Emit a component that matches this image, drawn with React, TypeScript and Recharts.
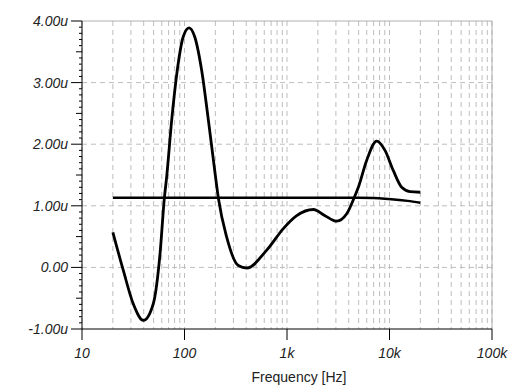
import React from "react";
import { LineChart, Line, XAxis, YAxis, CartesianGrid, ReferenceLine, Label } from "recharts";

// Frequency response (u)
const respFreq = [20, 25.3, 31.6, 39.7, 49.6, 57.7, 63.6, 67, 75, 85, 97, 110.7, 126, 147, 171, 199, 214, 258, 335, 405, 634, 921, 1245, 1808, 2350, 3053, 3822, 4505, 4966, 5996, 7503, 9036, 10900, 13150, 15850, 20000];
const respVal = [0.57, -0.05, -0.59, -0.86, -0.59, 0.22, 1.125, 1.47, 2.39, 3.2, 3.74, 3.89, 3.74, 3.2, 2.39, 1.52, 1.125, 0.49, 0.03, -0.01, 0.28, 0.63, 0.84, 0.94, 0.84, 0.75, 0.87, 1.125, 1.3, 1.74, 2.05, 1.9, 1.57, 1.3, 1.23, 1.22];

// Flat reference trace
const flatFreq = [20, 5000, 7000, 9000, 11750, 15000, 20000];
const flatVal = [1.13, 1.13, 1.125, 1.115, 1.1, 1.08, 1.05];

// Axes
const decades = [10, 100, 1000, 10000, 100000];
const decadeLabels = ["10", "100", "1k", "10k", "100k"];
const multipliers = [1, 2, 3, 4, 5, 6, 7, 8, 9];
const xTicks = [...decades.slice(0, 4).flatMap((d) => multipliers.map((m) => d * m)), 100000];
const yMajor = [-1, 0, 1, 2, 3, 4];
const yTicks = Array.from({ length: 51 }, (_, i) => Math.round((-1 + i * 0.1) * 10) / 10);

const respData = respFreq.map((f, i) => ({ f, v: respVal[i] }));
const flatData = flatFreq.map((f, i) => ({ f, v: flatVal[i] }));

const font = "'Liberation Sans', Arial, sans-serif";
const tickText = { fontFamily: font, fontStyle: "italic", fontSize: 14, fill: "#222" } as const;

function XTick(props: any) {
  const { x, y, payload } = props;
  const idx = decades.indexOf(payload.value);
  if (idx < 0) return null;
  return (
    <g>
      <line x1={x} y1={y} x2={x} y2={y + 11} stroke="#000" />
      <text x={x} y={y + 29} textAnchor="middle" style={tickText}>
        {decadeLabels[idx]}
      </text>
    </g>
  );
}

function YTick(props: any) {
  const { x, y, payload } = props;
  const v = payload.value;
  const k = Math.round(v * 10);
  const major = k % 10 === 0;
  const len = major ? 11 : k % 5 === 0 ? 6 : 3;
  return (
    <g>
      <line x1={x - len} y1={y} x2={x} y2={y} stroke="#000" />
      {major && (
        <text x={x - 14} y={y + 5} textAnchor="end" style={tickText}>
          {v === 0 ? "0.00" : `${v.toFixed(2)}u`}
        </text>
      )}
    </g>
  );
}

export default function App() {
  return (
    <div style={{ position: "absolute", left: 0, top: 0, background: "#fff" }}>
      <LineChart width={520} height={390} margin={{ top: 21, right: 28, bottom: 0, left: 0 }}>
        <CartesianGrid horizontal={false} stroke="#bdbdbd" strokeDasharray="5 4" />
        {yMajor.slice(1, 5).map((v) => (
          <ReferenceLine key={v} y={v} stroke="#bdbdbd" strokeDasharray="5 4" />
        ))}
        <ReferenceLine y={4} stroke="#b0b0b0" />
        <ReferenceLine x={100000} stroke="#b0b0b0" />
        <XAxis
          dataKey="f"
          type="number"
          scale="log"
          domain={[10, 100000]}
          ticks={xTicks}
          interval={0}
          allowDataOverflow
          height={61}
          tickSize={0}
          tickMargin={0}
          tickLine={false}
          axisLine={{ stroke: "#000" }}
          tick={<XTick />}
        >
          <Label value="Frequency [Hz]" position="insideBottom" offset={8} dx={12} fontSize={14} fontFamily={font} fill="#222" />
        </XAxis>
        <YAxis
          type="number"
          domain={[-1, 4]}
          ticks={yTicks}
          interval={0}
          width={82}
          tickSize={0}
          tickMargin={0}
          tickLine={false}
          axisLine={{ stroke: "#000" }}
          tick={<YTick />}
          allowDataOverflow
        />
        <Line data={flatData} dataKey="v" type="monotone" stroke="#000" strokeWidth={2.5} dot={false} isAnimationActive={false} />
        <Line data={respData} dataKey="v" type="monotone" stroke="#000" strokeWidth={2.8} dot={false} isAnimationActive={false} />
      </LineChart>
    </div>
  );
}
